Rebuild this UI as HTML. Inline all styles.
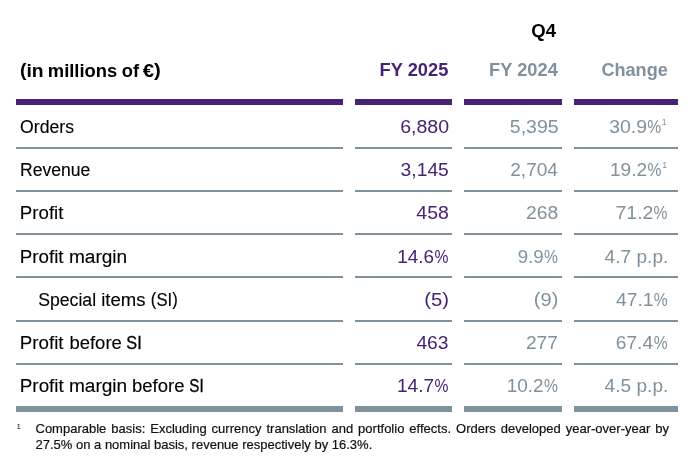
<!DOCTYPE html>
<html lang="en">
<head>
<meta charset="utf-8">
<title>Q4 key figures</title>
<style>
  html, body { margin: 0; padding: 0; background: #ffffff; }
  body { width: 700px; height: 474px; overflow: hidden; position: relative;
         font-family: "Liberation Sans", sans-serif; color: #000; }
  table.kf { position: absolute; left: 4px; top: 0; border-collapse: separate;
             border-spacing: 12px 0; table-layout: fixed; width: 686px; }
  table.kf col.c1 { width: 327px; }
  table.kf col.c2 { width: 97px; }
  table.kf col.c3 { width: 98px; }
  table.kf col.c4 { width: 104px; }
  table.kf th, table.kf td { padding: 0; margin: 0; box-sizing: border-box; white-space: nowrap;
             vertical-align: top; font-size: 18px; line-height: 20px; }
  table.kf tbody td { font-size: 18px; }
  table.kf tbody td.l { -webkit-text-stroke: 0.12px currentColor; }
  table.kf tr.h th.l { font-size: 18px; }

  .s { display: inline-block; }
  .pa { position: relative; top: -1px; }
  .s.l { transform-origin: left center; }
  .s.r { transform-origin: right center; }
  table.kf tr.q th { height: 46px; font-weight: bold; text-align: right; padding-top: 21px; padding-right: 6px; color: #000; }
  table.kf tr.h th { height: 59px; font-weight: bold; padding-top: 14px; border-bottom: 6px solid #472375; }
  table.kf tr.h th.l { text-align: left; padding-left: 4px; padding-top: 15px; color: #000; }
  table.kf tr.h th.n { text-align: right; padding-right: 4px; }
  table.kf tr.h th.c { text-align: right; padding-right: 11px; }
  .p { color: #472375; }
  .g { color: #7f919d; }
  table.kf tbody td { border-bottom: 2px solid #7f919d; }
  table.kf tbody td.l { text-align: left; padding-left: 4px; }
  table.kf tbody tr.ind td.l { padding-left: 22px; }
  table.kf tbody td.n { text-align: right; padding-right: 4px; }
  table.kf tbody td.c { text-align: right; padding-right: 11px; }
  table.kf tbody tr.last td { border-bottom: 6px solid #7f919d; }
  sup { font-size: 9px; line-height: 0; vertical-align: 7.7px; -webkit-text-stroke: 0; }
  .fn { position: absolute; left: 16px; top: 421px; -webkit-text-stroke: 0.2px currentColor; width: 653px; font-size: 13px; line-height: 15.5px; color: #111; }
  .fn .m { position: absolute; left: 0.6px; top: 2px; font-size: 8px; line-height: 8px; -webkit-text-stroke: 0; }
  .fn p { margin: 0; padding-left: 19.5px; text-align: justify; }
</style>
</head>
<body>
<table class="kf">
  <colgroup><col class="c1"><col class="c2"><col class="c3"><col class="c4"></colgroup>
  <thead>
    <tr class="q"><th></th><th></th><th><span class="s r" style="transform:translate(-0.07px,0.00px) scaleX(1.0294)">Q4</span></th><th></th></tr>
    <tr class="h"><th class="l"><span class="s l" style="transform:translate(-0.06px,0.00px) scaleX(1.0745)"><span class="pa">(</span>in</span> <span class="s l" style="transform:translate(0.79px,0.00px) scaleX(1.0212)">millions</span> <span class="s l" style="transform:translate(1.70px,0.00px) scaleX(1.0185)">of</span> <span class="s l" style="transform:translate(0.77px,0.00px) scaleX(1.1294)">€<span class="pa">)</span></span></th><th class="n p"><span class="s r" style="transform:translate(0.60px,0.00px) scaleX(1.0152)">FY 2025</span></th><th class="n g"><span class="s r" style="transform:translate(0.11px,0.00px) scaleX(1.0149)">FY 2024</span></th><th class="c g"><span class="s r" style="transform:translate(0.77px,0.00px) scaleX(1.0052)">Change</span></th></tr>
  </thead>
  <tbody>
    <tr class="r1"><td class="l" style="height:44px;padding-top:12px"><span class="s l" style="transform:translate(0.12px,0.00px) scaleX(0.9805)">Orders</span></td><td class="n p" style="height:44px;padding-top:12px"><span class="s r" style="transform:translate(1.06px,0.00px) scaleX(1.0869)">6,880</span></td><td class="n g" style="height:44px;padding-top:12px"><span class="s r" style="transform:translate(0.50px,0.00px) scaleX(1.0815)">5,395</span></td><td class="c g" style="height:44px;padding-top:12px"><span class="s r" style="transform:translate(1.00px,0.00px) scaleX(1.0818)">30.9</span><span class="s r" style="transform:translate(-0.84px,0.00px) scaleX(0.8687)">%</span><span class="s r" style="transform:translate(-0.46px,0.00px) scaleX(0.9704)"><sup>1</sup></span></td></tr>
    <tr class="r2"><td class="l" style="height:43px;padding-top:11px"><span class="s l" style="transform:translate(-0.05px,0.00px) scaleX(0.9754)">Revenue</span></td><td class="n p" style="height:43px;padding-top:11px"><span class="s r" style="transform:translate(0.76px,0.00px) scaleX(1.0699)">3,145</span></td><td class="n g" style="height:43px;padding-top:11px"><span class="s r" style="transform:translate(-0.13px,0.00px) scaleX(1.0579)">2,704</span></td><td class="c g" style="height:43px;padding-top:11px"><span class="s r" style="transform:translate(1.08px,0.00px) scaleX(1.0604)">19.2</span><span class="s r" style="transform:translate(-0.68px,0.00px) scaleX(0.8687)">%</span><span class="s r" style="transform:translate(0.08px,0.00px) scaleX(0.9704)"><sup>1</sup></span></td></tr>
    <tr class="r3"><td class="l" style="height:43px;padding-top:11px"><span class="s l" style="transform:translate(-0.20px,0.00px) scaleX(1.0380)">Profit</span></td><td class="n p" style="height:43px;padding-top:11px"><span class="s r" style="transform:translate(0.80px,0.00px) scaleX(1.0824)">458</span></td><td class="n g" style="height:43px;padding-top:11px"><span class="s r" style="transform:translate(0.10px,0.00px) scaleX(1.0727)">268</span></td><td class="c g" style="height:43px;padding-top:11px"><span class="s r" style="transform:translate(2.41px,0.00px) scaleX(1.0848)">71.2</span><span class="s r" style="transform:translate(0.50px,0.00px) scaleX(0.8687)">%</span></td></tr>
    <tr class="r4"><td class="l" style="height:43px;padding-top:12px"><span class="s l" style="transform:translate(-0.20px,0.00px) scaleX(1.0417)">Profit</span> <span class="s l" style="transform:translate(1.88px,0.00px) scaleX(1.0606)">margin</span></td><td class="n p" style="height:43px;padding-top:12px"><span class="s r" style="transform:translate(2.04px,0.00px) scaleX(1.0491)">14.6</span><span class="s r" style="transform:translate(0.32px,0.00px) scaleX(0.8687)">%</span></td><td class="n g" style="height:43px;padding-top:12px"><span class="s r" style="transform:translate(1.70px,0.00px) scaleX(1.0391)">9.9</span><span class="s r" style="transform:translate(-0.20px,0.00px) scaleX(0.8687)">%</span></td><td class="c g" style="height:43px;padding-top:12px"><span class="s r" style="transform:translate(1.27px,0.00px) scaleX(1.0612)">4.7 p.p.</span></td></tr>
    <tr class="r5 ind"><td class="l" style="height:44px;padding-top:12px"><span class="s l" style="transform:translate(0.15px,0.00px) scaleX(0.9813)">Special</span> <span class="s l" style="transform:translate(-0.82px,0.00px) scaleX(1.0293)">items</span> <span class="s l" style="transform:translate(0.87px,0.00px) scaleX(0.9266)"><span class="pa">(</span>SI<span class="pa">)</span></span></td><td class="n p" style="height:44px;padding-top:12px"><span class="s r" style="transform:translate(0.94px,0.00px) scaleX(1.1278)"><span class="pa">(</span>5<span class="pa">)</span></span></td><td class="n g" style="height:44px;padding-top:12px"><span class="s r" style="transform:translate(0.37px,0.00px) scaleX(1.1134)"><span class="pa">(</span>9<span class="pa">)</span></span></td><td class="c g" style="height:44px;padding-top:12px"><span class="s r" style="transform:translate(2.62px,0.00px) scaleX(1.0774)">47.1</span><span class="s r" style="transform:translate(0.60px,0.00px) scaleX(0.8687)">%</span></td></tr>
    <tr class="r6"><td class="l" style="height:43px;padding-top:11px"><span class="s l" style="transform:translate(-0.20px,0.00px) scaleX(1.0417)">Profit</span> <span class="s l" style="transform:translate(2.39px,0.00px) scaleX(1.0278)">before</span> <span class="s l" style="-webkit-text-stroke:0.3px currentColor;transform:translate(3.25px,0.00px) scaleX(0.9064)">SI</span></td><td class="n p" style="height:43px;padding-top:11px"><span class="s r" style="transform:translate(0.52px,0.00px) scaleX(1.0706)">463</span></td><td class="n g" style="height:43px;padding-top:11px"><span class="s r" style="transform:translate(0.02px,0.00px) scaleX(1.0704)">277</span></td><td class="c g" style="height:43px;padding-top:11px"><span class="s r" style="transform:translate(2.02px,0.00px) scaleX(1.0630)">67.4</span><span class="s r" style="transform:translate(0.60px,0.00px) scaleX(0.8687)">%</span></td></tr>
    <tr class="r7 last"><td class="l" style="height:47px;padding-top:11px"><span class="s l" style="transform:translate(-0.20px,0.00px) scaleX(1.0467)">Profit</span> <span class="s l" style="transform:translate(1.88px,0.00px) scaleX(1.0606)">margin</span> <span class="s l" style="transform:translate(5.03px,0.00px) scaleX(1.0280)">before</span> <span class="s l" style="-webkit-text-stroke:0.35px currentColor;transform:translate(6.28px,0.00px) scaleX(0.8437)">SI</span></td><td class="n p" style="height:47px;padding-top:11px"><span class="s r" style="transform:translate(2.08px,0.00px) scaleX(1.0604)">14.7</span><span class="s r" style="transform:translate(0.32px,0.00px) scaleX(0.8687)">%</span></td><td class="n g" style="height:47px;padding-top:11px"><span class="s r" style="transform:translate(1.58px,0.00px) scaleX(1.0512)">10.2</span><span class="s r" style="transform:translate(-0.20px,0.00px) scaleX(0.8687)">%</span></td><td class="c g" style="height:47px;padding-top:11px"><span class="s r" style="transform:translate(1.27px,0.00px) scaleX(1.0612)">4.5 p.p.</span></td></tr>
  </tbody>
</table>
<div class="fn"><span class="m">1</span><p>Comparable basis: Excluding currency translation and portfolio effects. Orders developed year-over-year by 27.5% on a nominal basis, revenue respectively by 16.3%.</p></div>
</body>
</html>
